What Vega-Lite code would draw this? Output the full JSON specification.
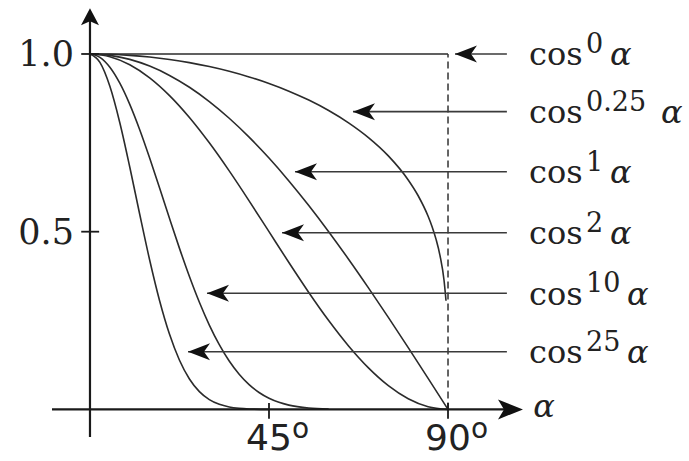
{
  "$schema": "https://vega.github.io/schema/vega-lite/v6.json",
  "width": 689,
  "height": 461,
  "autosize": {"type": "none"},
  "padding": 0,
  "background": "white",
  "config": {"view": {"stroke": null}},
  "datasets": {
    "curves": [
      {"n": "0", "a": 0, "v": 1}, {"n": "0", "a": 90, "v": 1},
      {"n": "0.25", "a": 0, "v": 1}, {"n": "0.25", "a": 5, "v": 0.99905}, {"n": "0.25", "a": 10, "v": 0.99618}, {"n": "0.25", "a": 15, "v": 0.99137}, {"n": "0.25", "a": 20, "v": 0.98457}, {"n": "0.25", "a": 25, "v": 0.97571}, {"n": "0.25", "a": 30, "v": 0.96468}, {"n": "0.25", "a": 35, "v": 0.95135}, {"n": "0.25", "a": 40, "v": 0.93554}, {"n": "0.25", "a": 45, "v": 0.917}, {"n": "0.25", "a": 50, "v": 0.8954}, {"n": "0.25", "a": 55, "v": 0.87027}, {"n": "0.25", "a": 60, "v": 0.8409}, {"n": "0.25", "a": 65, "v": 0.80628}, {"n": "0.25", "a": 70, "v": 0.76472}, {"n": "0.25", "a": 75, "v": 0.71327}, {"n": "0.25", "a": 80, "v": 0.64554}, {"n": "0.25", "a": 82.5, "v": 0.6011}, {"n": "0.25", "a": 85, "v": 0.54335}, {"n": "0.25", "a": 86, "v": 0.5139}, {"n": "0.25", "a": 87, "v": 0.4783}, {"n": "0.25", "a": 88, "v": 0.4322}, {"n": "0.25", "a": 89, "v": 0.3634}, {"n": "0.25", "a": 89.5, "v": 0.3056},
      {"n": "1", "a": 0, "v": 1}, {"n": "1", "a": 5, "v": 0.99619}, {"n": "1", "a": 10, "v": 0.98481}, {"n": "1", "a": 15, "v": 0.96593}, {"n": "1", "a": 20, "v": 0.93969}, {"n": "1", "a": 25, "v": 0.90631}, {"n": "1", "a": 30, "v": 0.86603}, {"n": "1", "a": 35, "v": 0.81915}, {"n": "1", "a": 40, "v": 0.76604}, {"n": "1", "a": 45, "v": 0.70711}, {"n": "1", "a": 50, "v": 0.64279}, {"n": "1", "a": 55, "v": 0.57358}, {"n": "1", "a": 60, "v": 0.5}, {"n": "1", "a": 65, "v": 0.42262}, {"n": "1", "a": 70, "v": 0.34202}, {"n": "1", "a": 75, "v": 0.25882}, {"n": "1", "a": 80, "v": 0.17365}, {"n": "1", "a": 85, "v": 0.08716}, {"n": "1", "a": 90, "v": 0},
      {"n": "2", "a": 0, "v": 1}, {"n": "2", "a": 5, "v": 0.9924}, {"n": "2", "a": 10, "v": 0.96985}, {"n": "2", "a": 15, "v": 0.93301}, {"n": "2", "a": 20, "v": 0.88302}, {"n": "2", "a": 25, "v": 0.82139}, {"n": "2", "a": 30, "v": 0.75}, {"n": "2", "a": 35, "v": 0.67101}, {"n": "2", "a": 40, "v": 0.58682}, {"n": "2", "a": 45, "v": 0.5}, {"n": "2", "a": 50, "v": 0.41318}, {"n": "2", "a": 55, "v": 0.32899}, {"n": "2", "a": 60, "v": 0.25}, {"n": "2", "a": 65, "v": 0.17861}, {"n": "2", "a": 70, "v": 0.11698}, {"n": "2", "a": 75, "v": 0.06699}, {"n": "2", "a": 80, "v": 0.03015}, {"n": "2", "a": 85, "v": 0.0076}, {"n": "2", "a": 90, "v": 0},
      {"n": "10", "a": 0, "v": 1}, {"n": "10", "a": 2.5, "v": 0.99052}, {"n": "10", "a": 5, "v": 0.9626}, {"n": "10", "a": 7.5, "v": 0.91767}, {"n": "10", "a": 10, "v": 0.85805}, {"n": "10", "a": 12.5, "v": 0.78672}, {"n": "10", "a": 15, "v": 0.70706}, {"n": "10", "a": 17.5, "v": 0.62261}, {"n": "10", "a": 20, "v": 0.53685}, {"n": "10", "a": 22.5, "v": 0.45306}, {"n": "10", "a": 25, "v": 0.37392}, {"n": "10", "a": 27.5, "v": 0.3015}, {"n": "10", "a": 30, "v": 0.2373}, {"n": "10", "a": 32.5, "v": 0.18209}, {"n": "10", "a": 35, "v": 0.13605}, {"n": "10", "a": 37.5, "v": 0.0988}, {"n": "10", "a": 40, "v": 0.06958}, {"n": "10", "a": 42.5, "v": 0.04745}, {"n": "10", "a": 45, "v": 0.03125}, {"n": "10", "a": 47.5, "v": 0.01981}, {"n": "10", "a": 50, "v": 0.01204}, {"n": "10", "a": 55, "v": 0.00386}, {"n": "10", "a": 60, "v": 0.00098},
      {"n": "25", "a": 0, "v": 1}, {"n": "25", "a": 2.5, "v": 0.97648}, {"n": "25", "a": 5, "v": 0.9091}, {"n": "25", "a": 7.5, "v": 0.8067}, {"n": "25", "a": 10, "v": 0.68199}, {"n": "25", "a": 12.5, "v": 0.54897}, {"n": "25", "a": 15, "v": 0.42034}, {"n": "25", "a": 17.5, "v": 0.30585}, {"n": "25", "a": 20, "v": 0.21118}, {"n": "25", "a": 22.5, "v": 0.13817}, {"n": "25", "a": 25, "v": 0.08551}, {"n": "25", "a": 27.5, "v": 0.04992}, {"n": "25", "a": 30, "v": 0.02743}, {"n": "25", "a": 32.5, "v": 0.01415}, {"n": "25", "a": 35, "v": 0.00683}, {"n": "25", "a": 37.5, "v": 0.00307}, {"n": "25", "a": 40, "v": 0.00128}, {"n": "25", "a": 45, "v": 0.00017}
    ],
    "labels": [
      {"sup": "0", "v": 1.0, "tip": 91.75},
      {"sup": "0.25", "v": 0.8377, "tip": 66.11},
      {"sup": "1", "v": 0.6688, "tip": 51.53},
      {"sup": "2", "v": 0.4972, "tip": 48.27},
      {"sup": "10", "v": 0.3267, "tip": 29.41},
      {"sup": "25", "v": 0.1624, "tip": 24.64}
    ],
    "yticks": [{"v": 1.0, "label": "1.0"}, {"v": 0.5, "label": "0.5"}],
    "xticks": [{"a": 45, "label": "45"}, {"a": 90, "label": "90"}],
    "one": [{}]
  },
  "layer": [
    {
      "data": {"name": "curves"},
      "mark": {"type": "line", "interpolate": "monotone", "stroke": "#2b2b2b", "strokeWidth": 1.6},
      "encoding": {
        "x": {"field": "a", "type": "quantitative", "scale": {"domain": [-22.62, 150.58], "nice": false, "zero": false}, "axis": null},
        "y": {"field": "v", "type": "quantitative", "scale": {"domain": [-0.1452, 1.1519], "nice": false, "zero": false}, "axis": null},
        "detail": {"field": "n"}
      }
    },
    {
      "data": {"name": "one"},
      "mark": {"type": "rule", "stroke": "#333", "strokeWidth": 1.5, "strokeDash": [7, 4]},
      "encoding": {
        "x": {"datum": 90, "axis": null},
        "y": {"datum": 0, "axis": null},
        "y2": {"datum": 1}
      }
    },
    {
      "data": {"name": "one"},
      "mark": {"type": "rule", "stroke": "#1a1a1a", "strokeWidth": 2.2},
      "encoding": {
        "x": {"datum": 0, "axis": null},
        "y": {"datum": -0.0777, "axis": null},
        "y2": {"datum": 1.1}
      }
    },
    {
      "data": {"name": "one"},
      "mark": {"type": "rule", "stroke": "#1a1a1a", "strokeWidth": 2.2},
      "encoding": {
        "x": {"datum": -9.55, "axis": null},
        "x2": {"datum": 104.5},
        "y": {"datum": 0, "axis": null}
      }
    },
    {
      "data": {"name": "one"},
      "mark": {"type": "point", "shape": "M0,0L-0.9,1.7L0,1.3L0.9,1.7Z", "filled": true, "size": 400, "color": "#111", "opacity": 1},
      "encoding": {
        "x": {"datum": 0, "axis": null},
        "y": {"datum": 1.1286, "axis": null}
      }
    },
    {
      "data": {"name": "one"},
      "mark": {"type": "point", "shape": "M0,0L-2.5,-1L-1.9,0L-2.5,1Z", "filled": true, "size": 400, "color": "#111", "opacity": 1},
      "encoding": {
        "x": {"datum": 108.85, "axis": null},
        "y": {"datum": 0, "axis": null}
      }
    },
    {
      "data": {"name": "one"},
      "mark": {"type": "text", "text": "α", "font": "DejaVu Serif", "fontStyle": "italic", "fontSize": 32, "align": "left", "baseline": "alphabetic", "dy": 8, "color": "#222"},
      "encoding": {
        "x": {"datum": 111.4, "axis": null},
        "y": {"datum": 0, "axis": null}
      }
    },
    {
      "data": {"name": "yticks"},
      "mark": {"type": "rule", "stroke": "#1a1a1a", "strokeWidth": 1.8},
      "encoding": {
        "x": {"datum": -2.2, "axis": null},
        "x2": {"datum": 2.3},
        "y": {"field": "v", "type": "quantitative", "axis": null}
      }
    },
    {
      "data": {"name": "yticks"},
      "mark": {"type": "text", "font": "DejaVu Serif", "fontSize": 35, "align": "right", "baseline": "alphabetic", "dx": -16, "dy": 12.5, "color": "#222"},
      "encoding": {
        "x": {"datum": 0, "axis": null},
        "y": {"field": "v", "type": "quantitative", "axis": null},
        "text": {"field": "label"}
      }
    },
    {
      "data": {"name": "xticks"},
      "mark": {"type": "rule", "stroke": "#1a1a1a", "strokeWidth": 1.8},
      "encoding": {
        "x": {"field": "a", "type": "quantitative", "axis": null},
        "y": {"datum": 0.018, "axis": null},
        "y2": {"datum": -0.026}
      }
    },
    {
      "data": {"name": "xticks"},
      "mark": {"type": "text", "font": "DejaVu Sans", "fontSize": 36, "align": "center", "baseline": "alphabetic", "dy": 41, "color": "#222"},
      "encoding": {
        "x": {"field": "a", "type": "quantitative", "axis": null},
        "y": {"datum": 0, "axis": null},
        "text": {"field": "label"}
      }
    },
    {
      "data": {"name": "xticks"},
      "mark": {"type": "text", "text": "o", "font": "DejaVu Sans", "fontSize": 28, "align": "left", "baseline": "alphabetic", "dx": 23, "dy": 29, "color": "#222"},
      "encoding": {
        "x": {"field": "a", "type": "quantitative", "axis": null},
        "y": {"datum": 0, "axis": null}
      }
    },
    {
      "data": {"name": "labels"},
      "mark": {"type": "rule", "stroke": "#3a3a3a", "strokeWidth": 1.6},
      "encoding": {
        "x": {"field": "tip", "type": "quantitative", "axis": null},
        "x2": {"datum": 104.8},
        "y": {"field": "v", "type": "quantitative", "axis": null}
      }
    },
    {
      "data": {"name": "labels"},
      "mark": {"type": "point", "shape": "M0,0L2.2,-0.85L1.6,0L2.2,0.85Z", "filled": true, "size": 400, "color": "#111", "opacity": 1},
      "encoding": {
        "x": {"field": "tip", "type": "quantitative", "axis": null},
        "y": {"field": "v", "type": "quantitative", "axis": null}
      }
    },
    {
      "data": {"name": "labels"},
      "mark": {"type": "text", "text": "cos", "font": "DejaVu Serif", "fontSize": 32, "align": "left", "baseline": "alphabetic", "dy": 11.5, "color": "#222"},
      "encoding": {
        "x": {"datum": 110.36, "axis": null},
        "y": {"field": "v", "type": "quantitative", "axis": null}
      }
    },
    {
      "data": {"name": "labels"},
      "mark": {"type": "text", "font": "DejaVu Serif", "fontSize": 27, "align": "left", "baseline": "alphabetic", "dx": 57, "dy": -1, "color": "#222"},
      "encoding": {
        "x": {"datum": 110.36, "axis": null},
        "y": {"field": "v", "type": "quantitative", "axis": null},
        "text": {"field": "sup"}
      }
    },
    {
      "data": {"name": "labels"},
      "mark": {"type": "text", "text": "α", "font": "DejaVu Serif", "fontStyle": "italic", "fontSize": 32, "align": "left", "baseline": "alphabetic", "dx": {"expr": "64 + 17*length(datum.sup)"}, "dy": 11.5, "color": "#222"},
      "encoding": {
        "x": {"datum": 110.36, "axis": null},
        "y": {"field": "v", "type": "quantitative", "axis": null}
      }
    }
  ]
}
